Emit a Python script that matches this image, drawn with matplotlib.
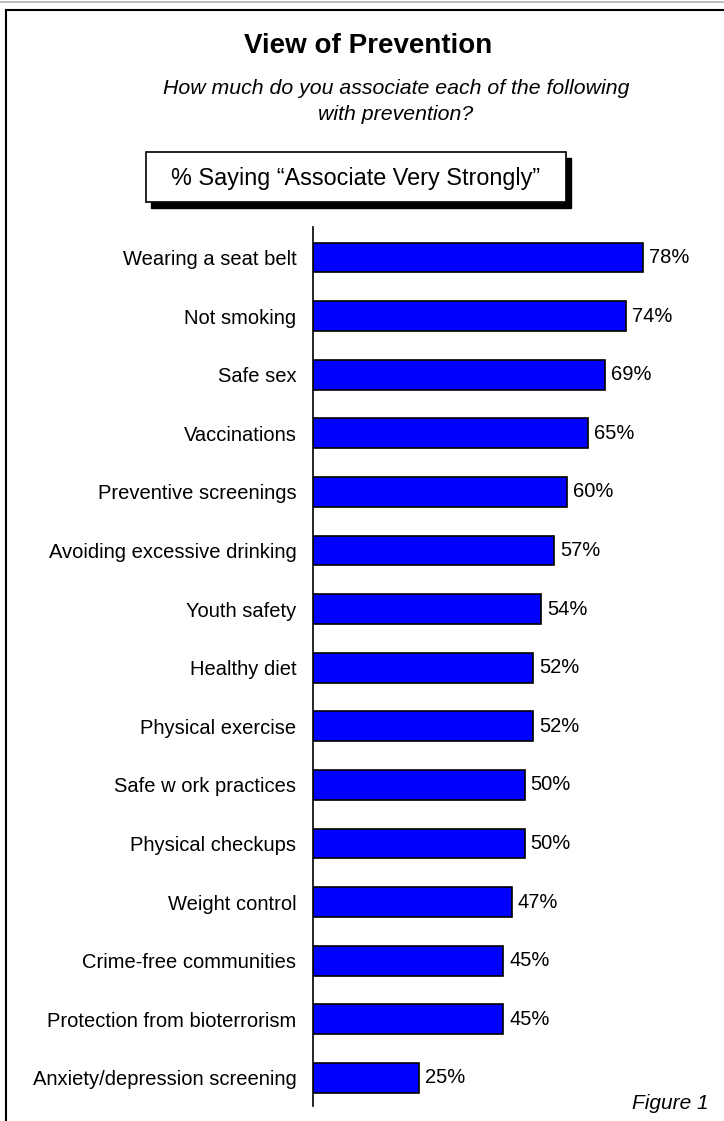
"""View of Prevention - horizontal bar chart."""

import matplotlib.pyplot as plt
from matplotlib.patches import Rectangle

plt.rcParams["font.family"] = ["Liberation Sans", "DejaVu Sans"]

categories = [
    "Wearing a seat belt",
    "Not smoking",
    "Safe sex",
    "Vaccinations",
    "Preventive screenings",
    "Avoiding excessive drinking",
    "Youth safety",
    "Healthy diet",
    "Physical exercise",
    "Safe w ork practices",
    "Physical checkups",
    "Weight control",
    "Crime-free communities",
    "Protection from bioterrorism",
    "Anxiety/depression screening",
]
values = [78, 74, 69, 65, 60, 57, 54, 52, 52, 50, 50, 47, 45, 45, 25]

W, H = 724, 1121
fig = plt.figure(figsize=(W / 100, H / 100), dpi=100)


def fx(px):
    return px / W


def fy(py):
    return 1 - py / H


# outer frame
fig.add_artist(plt.Line2D([0, 1], [fy(2), fy(2)], color="#b0b0b0", lw=1.2))
fig.add_artist(plt.Line2D([fx(6), fx(6)], [fy(10), 0], color="black", lw=1.5))
fig.add_artist(plt.Line2D([fx(6), 1], [fy(10), fy(10)], color="black", lw=1.5))

# titles
fig.text(fx(368), fy(53), "View of Prevention", ha="center", va="baseline",
         fontsize=20, fontweight="bold")
fig.text(fx(396), fy(94), "How much do you associate each of the following",
         ha="center", va="baseline", fontsize=15.3, style="italic")
fig.text(fx(396), fy(120), "with prevention?",
         ha="center", va="baseline", fontsize=15.3, style="italic")

# boxed subtitle with shadow
fig.add_artist(Rectangle((fx(151), fy(208)), fx(420), fy(152) - fy(202),
                         facecolor="black", edgecolor="black"))
fig.add_artist(Rectangle((fx(146), fy(202)), fx(420), fy(152) - fy(202),
                         facecolor="white", edgecolor="black", lw=1.2))
fig.text(fx(356), fy(185), "% Saying \u201cAssociate Very Strongly\u201d",
         ha="center", va="baseline", fontsize=16.8)

# bars
ax = fig.add_axes([fx(313), fy(1106), fx(724 - 313), fy(227) - fy(1106)])
ypos = list(range(len(categories)))
ax.barh(ypos, values, height=0.51, color="#0000ff", edgecolor="black", lw=1.2)
ax.set_ylim(14.48, -0.52)
ax.set_xlim(0, (724 - 313) / 4.23)

for y, v in zip(ypos, values):
    ax.text(v + 1.4, y, f"{v}%", va="center", ha="left", fontsize=14.5)

ax.set_yticks(ypos)
ax.set_yticklabels(categories, fontsize=14.5)
ax.tick_params(axis="y", length=0, pad=12)
ax.set_xticks([])
for side in ["top", "right", "bottom"]:
    ax.spines[side].set_visible(False)
ax.spines["left"].set_linewidth(1.2)
ax.patch.set_alpha(0)

fig.text(fx(709), fy(1109), "Figure 1", ha="right", va="baseline",
         fontsize=15, style="italic")

fig.savefig("out.png", dpi=100)
